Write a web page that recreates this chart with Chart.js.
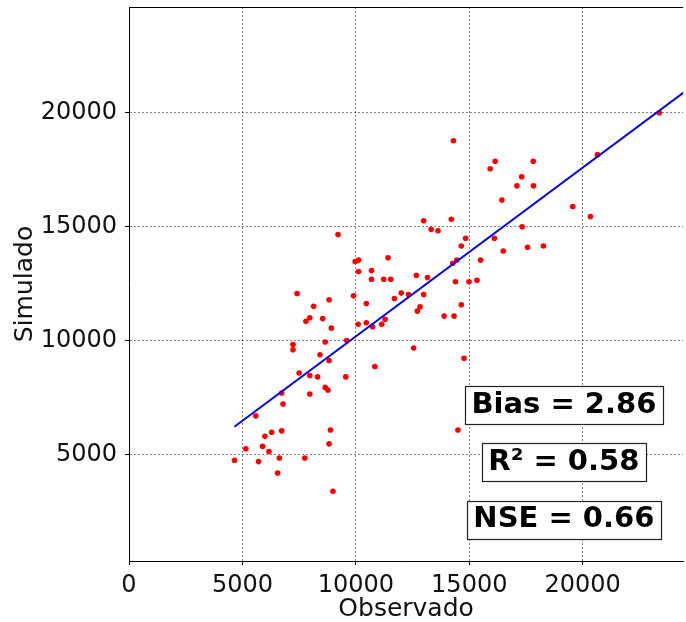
<!DOCTYPE html>
<html><head><meta charset="utf-8">
<script src="https://cdn.jsdelivr.net/npm/chart.js@4"></script>
<style>html,body{margin:0;padding:0;background:#fff;overflow:hidden}#wrap{width:686px;height:622px;position:relative}</style>
</head><body><div id="wrap"><canvas id="c"></canvas></div>
<script>
const observado = [14300,16140,15920,17820,17310,20650,23380,
 9215,9970,10120,11420,10120,10690,10690,11230,11540,7410,8820,9900,11700,8140,10460,7970,7800,8540,8920,10100,10460,10740,11140,11290,7230,7230,8650,9600,8420,8820,10840,7500,7970,8310,9555,
 17100,17830,16440,19560,20340,12990,14210,13320,13620,17330,14840,14650,16110,16500,17570,18270,14270,14450,15500,12670,13160,14390,14990,15340,12000,12320,12990,14650,12830,12710,13890,14330,12550,14770,
 6730,7970,8650,8770,6790,5590,5990,6290,6730,8880,8820,5150,5890,6170,4650,5710,6630,7750,6550,8990,
 14500];
const simulado = [18770,17870,17540,17870,17190,18160,20000,
 14650,13470,13530,13630,13030,13070,12690,12690,12690,12060,11790,11960,11840,11500,11620,11000,10840,10960,10540,10710,10780,10600,10710,10930,9820,9590,9930,10000,9370,9120,8860,8570,8460,8400,8400,
 16790,16790,16170,15880,15440,15260,15320,14880,14820,14990,14490,14150,14490,13930,14090,14150,13390,13530,13530,12860,12760,12580,12580,12640,12080,12020,12020,11570,11480,11290,11070,11070,9670,9220,
 7690,7650,7940,7820,7210,6690,5790,5970,6030,6070,5460,5240,5350,5120,4740,4680,4840,4840,4180,3380,
 6070];
const xTicks = [0,5000,10000,15000,20000];
const yTicks = [5000,10000,15000,20000];
const fitIntercept = 2770;
const fitSlope = 0.741;
const fitX = [4645, 26000];
const statLabels = ['Bias = 2.86', 'R\u00b2 = 0.58', 'NSE = 0.66'];
const xTitle = 'Observado';
const yTitle = 'Simulado';

const FONT = '"DejaVu Sans", sans-serif';
const statPos = {x: 19170, y: [7145, 4642, 2126]};

const framePlugin = {
  id: 'frame',
  afterDraw(chart) {
    const {ctx, chartArea: a, scales: {x, y}} = chart;
    ctx.save();
    ctx.strokeStyle = '#000'; ctx.lineWidth = 1; ctx.setLineDash([]);
    ctx.beginPath(); ctx.moveTo(a.left, a.top + 0.5); ctx.lineTo(a.right, a.top + 0.5); ctx.stroke();
    ctx.font = 'bold 29px ' + FONT;
    ctx.textAlign = 'center'; ctx.textBaseline = 'middle';
    statLabels.forEach((s, i) => {
      const cx = x.getPixelForValue(statPos.x), cy = y.getPixelForValue(statPos.y[i]);
      const w = ctx.measureText(s).width + 13, h = 38;
      ctx.fillStyle = '#fff';
      ctx.fillRect(cx - w / 2, cy - h / 2, w, h);
      ctx.strokeStyle = '#222'; ctx.lineWidth = 1.2;
      ctx.strokeRect(Math.round(cx - w / 2) + 0.5, Math.round(cy - h / 2) + 0.5, Math.round(w), h);
      ctx.fillStyle = '#000';
      ctx.fillText(s, cx, cy);
    });
    ctx.restore();
  }
};

const gridCommon = {
  color: (c) => (c.tick && c.tick.value === 0) ? 'rgba(0,0,0,0)' : 'rgba(0,0,0,0.48)',
  lineWidth: 1, drawTicks: true, tickLength: 4, tickColor: '#000', tickBorderDash: [], tickWidth: 1
};

new Chart(document.getElementById('c'), {
  type: 'scatter',
  data: {
    datasets: [
      {
        type: 'line', showLine: true,
        data: fitX.map(v => ({x: v, y: fitIntercept + fitSlope * v})),
        borderColor: '#0000ff', borderWidth: 2, pointRadius: 0, fill: false, tension: 0
      },
      {
        data: observado.map((v, i) => ({x: v, y: simulado[i]})),
        backgroundColor: '#ff0000', borderWidth: 0, pointRadius: 2.8, pointHoverRadius: 2.8
      }
    ]
  },
  options: {
    responsive: true, maintainAspectRatio: false, animation: false,
    layout: {padding: {top: 7, right: 0, bottom: 0, left: 0}},
    plugins: {legend: {display: false}, tooltip: {enabled: false}},
    scales: {
      x: {
        type: 'linear', min: 0, max: 24430,
        afterBuildTicks: (s) => { s.ticks = xTicks.map(v => ({value: v})); },
        afterFit: (s) => { s.height = 61; s.paddingLeft = 0; s.paddingRight = 0; },
        ticks: {color: '#111', font: {family: FONT, size: 24}, padding: 6, maxRotation: 0,
                callback: (v) => String(v)},
        grid: gridCommon,
        border: {display: true, color: '#000', width: 1, dash: [2, 2]},
        title: {display: true, text: xTitle, color: '#111', font: {family: FONT, size: 25, lineHeight: 1}, padding: {top: 0, bottom: 0}}
      },
      y: {
        type: 'linear', min: 316, max: 24643,
        afterBuildTicks: (s) => { s.ticks = yTicks.map(v => ({value: v})); },
        afterFit: (s) => { s.width = 129; s.paddingTop = 0; s.paddingBottom = 0; },
        ticks: {color: '#111', font: {family: FONT, size: 24}, padding: 8,
                callback: (v) => String(v)},
        grid: gridCommon,
        border: {display: true, color: '#000', width: 1, dash: [2, 2]},
        title: {display: true, text: yTitle, color: '#111', font: {family: FONT, size: 25, lineHeight: 1}, padding: {top: 13, bottom: 0}}
      }
    }
  },
  plugins: [framePlugin]
});
</script></body></html>
